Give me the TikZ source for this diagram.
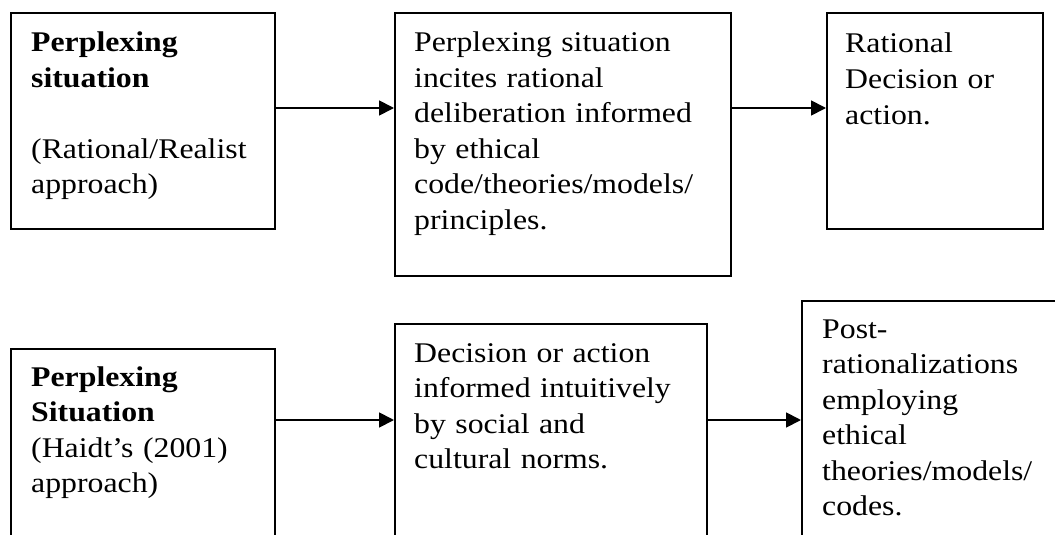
\documentclass[tikz,border=0pt]{standalone}
\usepackage{fontspec}
\setmainfont[FakeStretch=1.115]{Liberation Serif}
\usetikzlibrary{arrows.meta}

\tikzset{
  box/.style={draw, line width=2pt, rectangle, inner sep=0pt, anchor=north west},
  boxtext/.style={anchor=base west, inner sep=0pt, text width=330pt, align=left,
    font=\fontsize{28.5}{35.5}\selectfont},
  flow/.style={line width=1.8pt, -{Triangle[length=15pt,width=15pt]}}
}

\begin{document}
\begin{tikzpicture}[x=1pt,y=-1pt]
  \clip (0,0) rectangle (1055,535);
  \fill[white] (0,0) rectangle (1055,535);

  % upper row: rational/realist approach
  \node[box, minimum width=264pt, minimum height=216pt] (a1) at (10,12) {};
  \node[box, minimum width=336pt, minimum height=263pt] (b1) at (394,12) {};
  \node[box, minimum width=216pt, minimum height=216pt] (c1) at (826,12) {};

  \node[boxtext] (ta1) at (31,52) {\textbf{Perplexing}\\\textbf{situation}\\[35.5pt](Rational/Realist\\approach)};
  \node[boxtext] (tb1) at (414,52) {Perplexing situation\\incites rational\\deliberation informed\\by ethical\\code/theories/models/\\principles.};
  \node[boxtext] (tc1) at (845,53) {Rational\\Decision or\\action.};

  % lower row: Haidt's approach
  \node[box, minimum width=264pt, minimum height=230pt] (a2) at (10,348) {};
  \node[box, minimum width=312pt, minimum height=255pt] (b2) at (394,323) {};
  \node[box, minimum width=290pt, minimum height=280pt] (c2) at (801,300) {};

  \node[boxtext] (ta2) at (31,386) {\textbf{Perplexing}\\\textbf{Situation}\\(Haidt’s (2001)\\approach)};
  \node[boxtext] (tb2) at (414,362) {Decision or action\\informed intuitively\\by social and\\cultural norms.};
  \node[boxtext] (tc2) at (822,338) {Post-\\rationalizations\\employing\\ethical\\theories/models/\\codes.};

  % connectors
  \coordinate (top) at (0,108);
  \coordinate (bot) at (0,420);
  \draw[flow] (a1.east |- top) -- (b1.west |- top);
  \draw[flow] (b1.east |- top) -- (c1.west |- top);
  \draw[flow] (a2.east |- bot) -- (b2.west |- bot);
  \draw[flow] (b2.east |- bot) -- (c2.west |- bot);
\end{tikzpicture}
\end{document}
